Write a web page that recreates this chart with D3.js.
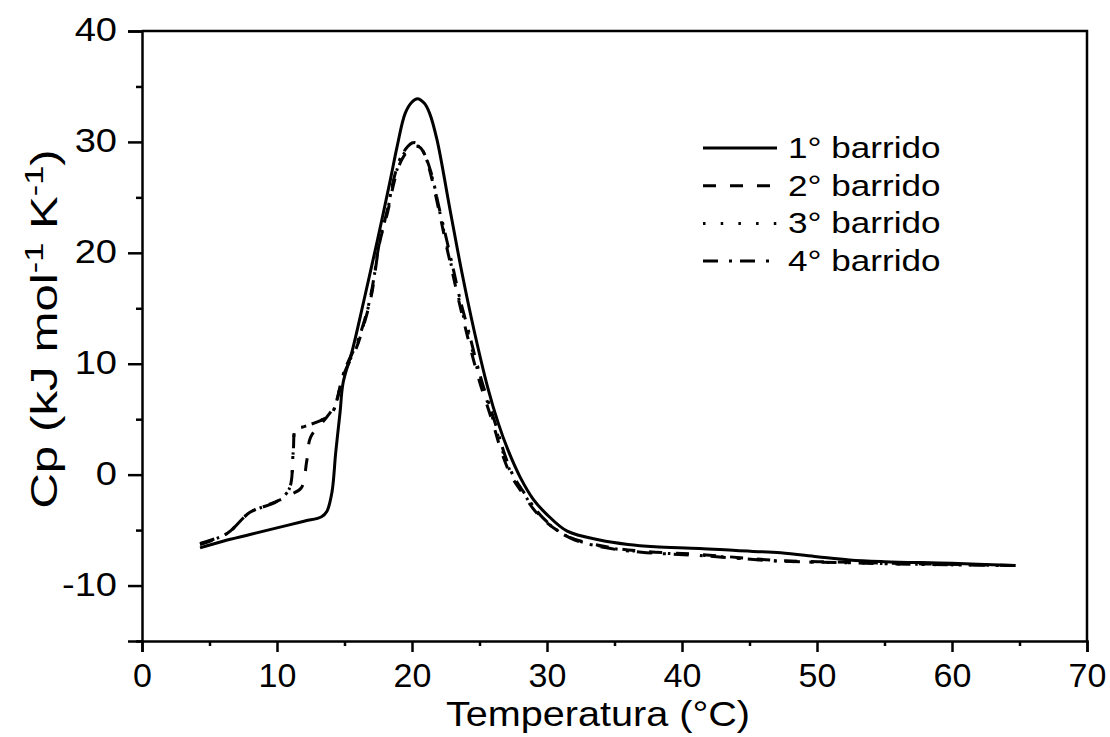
<!DOCTYPE html>
<html lang="es">
<head>
<meta charset="UTF-8">
<title>Cp vs Temperatura</title>
<style>
  body { margin: 0; background: #fff; }
  svg { display: block; font-family: "Liberation Sans", Arial, sans-serif; }
  .tick text { font-size: 34px; fill: #000; }
  .axis path, .axis line { stroke: #000; stroke-width: 2.5px; }
</style>
</head>
<body>
<svg width="1110" height="737"></svg>
<script src="https://d3js.org/d3.v7.min.js"></script>
<script>
// tick labels
const xTicks = [0, 10, 20, 30, 40, 50, 60, 70];
const xMinor = [5, 15, 25, 35, 45, 55, 65];
const yTicks = [-10, 0, 10, 20, 30, 40];
const yMinor = [-15, -5, 5, 15, 25, 35];

// 1° barrido
const t1 = [4.3, 6, 8, 10, 12, 13.3, 13.7, 14.07, 14.35, 14.67, 14.9, 15.6, 16.4, 17.45, 18.4, 18.9, 19.5, 20.0, 20.4, 20.9, 21.3, 21.85, 22.8, 23.7, 24.6, 25.6, 26.4, 27.1, 28, 29, 30, 31.5, 33.9, 36, 38, 41.3, 44, 47.3, 50, 52.4, 55, 60, 64.7];
const cp1 = [-6.6, -6.0, -5.4, -4.8, -4.2, -3.8, -3.3, -1.6, 2.0, 5.6, 8.3, 11.3, 15.5, 21.2, 26.6, 29.6, 32.6, 33.6, 33.9, 33.5, 32.6, 30.2, 24.0, 18.2, 13.0, 7.9, 4.6, 2.25, -0.2, -2.25, -3.6, -5.1, -5.9, -6.3, -6.5, -6.65, -6.85, -7.05, -7.4, -7.7, -7.85, -8.0, -8.2];

// 2° barrido
const t2 = [4.3, 6.3, 8.0, 10.0, 11.0, 11.8, 12.2, 12.5, 13.7, 14.3, 15.0, 15.9, 16.5, 17.0, 17.6, 18.2, 18.7, 19.2, 19.7, 20.2, 20.6, 21.0, 21.4, 22.0, 22.5, 23.0, 23.5, 24.0, 24.5, 25.0, 25.5, 26.0, 26.7, 27.3, 28.0, 29.5, 31.6, 34.4, 37.0, 41.3, 47.3, 52.4, 58.0, 64.7];
const cp2 = [-6.3, -5.3, -3.4, -2.4, -1.8, -1.2, 1.2, 3.4, 5.2, 6.3, 9.2, 11.5, 13.8, 16.2, 20.9, 23.7, 26.5, 28.3, 29.2, 29.6, 29.5, 28.7, 27.0, 23.8, 20.9, 18.2, 15.5, 13.0, 10.6, 8.4, 6.5, 4.6, 1.8, 0.0, -1.35, -3.8, -5.6, -6.5, -6.9, -7.2, -7.75, -7.9, -8.05, -8.2];

// 3° barrido
const t3 = [4.3, 6.3, 8.0, 10.0, 10.9, 11.2, 11.4, 11.9, 13.6, 14.1, 15.0, 15.9, 16.5, 17.0, 17.6, 18.2, 18.7, 19.2, 19.7, 20.1, 20.5, 20.9, 21.4, 22.0, 22.5, 23.0, 23.5, 24.1, 24.6, 25.1, 25.6, 26.1, 26.8, 27.4, 28.1, 29.6, 31.6, 34.4, 37.0, 41.3, 47.3, 52.4, 58.0, 64.7];
const cp3 = [-6.25, -5.3, -3.4, -2.4, -1.3, 2.0, 4.2, 4.3, 5.1, 5.6, 9.3, 11.6, 13.9, 16.4, 21.0, 23.9, 26.7, 28.5, 29.4, 29.7, 29.6, 28.9, 27.2, 24.0, 21.1, 18.4, 15.7, 13.0, 10.6, 8.4, 6.5, 4.6, 1.8, 0.0, -1.4, -3.85, -5.65, -6.55, -6.95, -7.25, -7.8, -7.95, -8.1, -8.2];

// 4° barrido
const t4 = [4.3, 6.3, 8.0, 10.0, 10.9, 11.2, 11.4, 11.9, 13.6, 14.1, 15.0, 15.9, 16.5, 17.0, 17.6, 18.2, 18.7, 19.2, 19.7, 20.0, 20.3, 20.8, 21.4, 22.0, 22.6, 23.1, 23.6, 24.2, 24.7, 25.2, 25.7, 26.2, 26.9, 27.5, 28.2, 29.7, 31.7, 34.4, 37.0, 41.3, 47.3, 52.4, 58.0, 64.7];
const cp4 = [-6.2, -5.3, -3.4, -2.4, -1.3, 2.0, 4.2, 4.3, 5.1, 5.6, 9.4, 11.8, 14.0, 16.5, 21.0, 24.0, 26.9, 28.7, 29.6, 29.9, 29.9, 29.2, 27.3, 24.1, 21.0, 18.3, 15.6, 12.9, 10.5, 8.3, 6.4, 4.5, 1.7, -0.1, -1.45, -3.9, -5.7, -6.6, -7.0, -7.3, -7.8, -7.95, -8.1, -8.2];

const seriesNames = ["1° barrido", "2° barrido", "3° barrido", "4° barrido"];
const seriesT = [t1, t2, t3, t4];
const seriesCp = [cp1, cp2, cp3, cp4];
const dashes = [null, "13,14", "2.5,15.2", "15,11,3,8"];

const margin = {top: 31, right: 23, bottom: 96, left: 142};
const width = 1110, height = 737;
const svg = d3.select("svg");

const x = d3.scaleLinear().domain([0, 70]).range([margin.left, width - margin.right]);
const y = d3.scaleLinear().domain([-15, 40]).range([height - margin.bottom, margin.top]);

// frame top / right
svg.append("path")
  .attr("d", `M${x(0)},${y(40)}H${x(70)}V${y(-15)}`)
  .attr("fill", "none").attr("stroke", "#000").attr("stroke-width", 2.5);

// axes
svg.append("g").attr("class", "axis")
  .attr("transform", `translate(0,${y(-15)})`)
  .call(d3.axisBottom(x).tickValues(xTicks).tickSize(11).tickPadding(11).tickFormat(d => String(d)));
svg.append("g").attr("class", "axis")
  .attr("transform", `translate(0,${y(-15)})`)
  .call(d3.axisBottom(x).tickValues(xMinor).tickSize(5).tickFormat(""))
  .select(".domain").remove();

const gy = svg.append("g").attr("class", "axis")
  .attr("transform", `translate(${x(0)},0)`)
  .call(d3.axisLeft(y).tickValues(yTicks).tickSize(14).tickPadding(11).tickFormat(d => String(d)));
gy.selectAll(".tick text")
  .attr("x", -25 / 1.12)
  .attr("dy", "0.29em")
  .attr("transform", "scale(1.12,0.97)");
svg.append("g").attr("class", "axis")
  .attr("transform", `translate(${x(0)},0)`)
  .call(d3.axisLeft(y).tickValues(yMinor).tickSize(6).tickFormat(""))
  .select(".domain").remove();

// axis titles
svg.append("text")
  .attr("transform", "translate(598,726) scale(1.1,1)")
  .attr("text-anchor", "middle").attr("font-size", 36)
  .text("Temperatura (°C)");

const yt = svg.append("text")
  .attr("transform", `translate(57,329) rotate(-90) scale(1.37,1)`)
  .attr("text-anchor", "middle").attr("font-size", 36);
yt.append("tspan").text("Cp (kJ mol");
yt.append("tspan").attr("font-size", 25).attr("dy", -14).text("-1");
yt.append("tspan").attr("dy", 14).text(" K");
yt.append("tspan").attr("font-size", 25).attr("dy", -14).text("-1");
yt.append("tspan").attr("dy", 14).text(")");

// curves
const line = d3.line()
  .x(d => x(d[0]))
  .y(d => y(d[1]))
  .curve(d3.curveCatmullRom.alpha(0.5));

seriesT.forEach((ts, i) => {
  const pts = ts.map((t, j) => [t, seriesCp[i][j]]);
  svg.append("path")
    .datum(pts)
    .attr("d", line)
    .attr("fill", "none")
    .attr("stroke", "#000")
    .attr("stroke-width", 3)
    .attr("stroke-dasharray", dashes[i]);
});

// legend
const legend = svg.append("g").attr("transform", "translate(703,148)");
seriesNames.forEach((name, i) => {
  const row = legend.append("g").attr("transform", `translate(0,${i * 37.7})`);
  row.append("line")
    .attr("x1", 0).attr("x2", 74).attr("y1", 0).attr("y2", 0)
    .attr("stroke", "#000").attr("stroke-width", 3)
    .attr("stroke-dasharray", dashes[i]);
  row.append("text")
    .attr("transform", "translate(85,10) scale(1.17,1)")
    .attr("font-size", 30)
    .text(name);
});
</script>
</body>
</html>
